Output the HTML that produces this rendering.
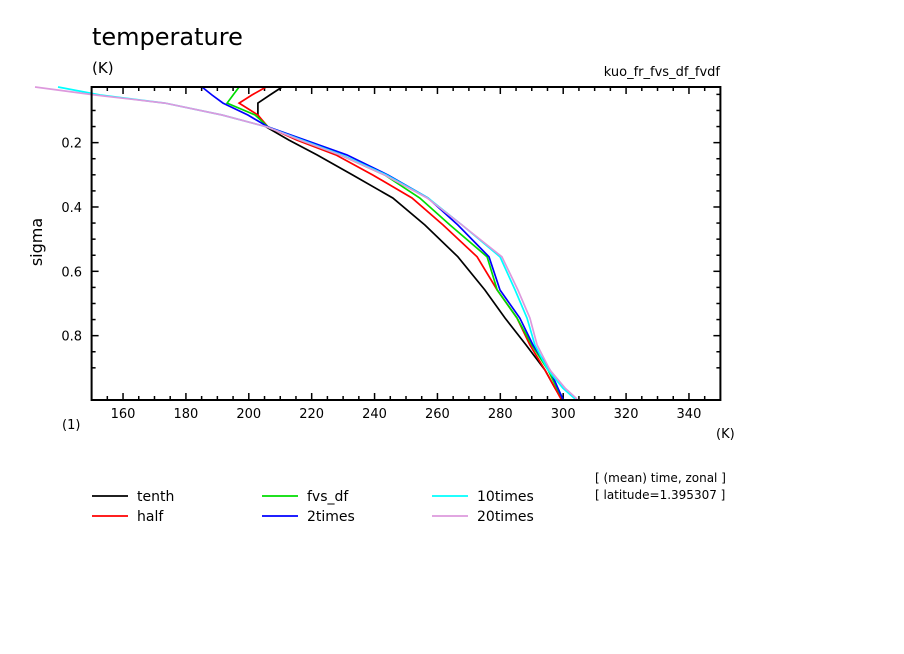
<!DOCTYPE html>
<html><head><meta charset="utf-8"><style>
html,body{margin:0;padding:0;background:#fff;}
svg{display:block;font-family:"DejaVu Sans","Liberation Sans",sans-serif;}
</style></head><body>
<svg id="chart" width="904" height="654" viewBox="0 0 904 654">
<text x="92" y="45" font-size="24">temperature</text>
<text x="92" y="73" font-size="15">(K)</text>
<text x="720" y="76" font-size="13" text-anchor="end">kuo_fr_fvs_df_fvdf</text>
<text x="42" y="242" font-size="16" text-anchor="middle" transform="rotate(-90 42 242)">sigma</text>
<text x="62" y="429" font-size="13">(1)</text>
<text x="716" y="438" font-size="13">(K)</text>
<text x="595" y="482" font-size="12">[ (mean) time, zonal ]</text>
<text x="595" y="499" font-size="12">[ latitude=1.395307 ]</text>
<g id="ticks"></g>
<g id="series"></g>
<rect x="91.6" y="87" width="628.8" height="313" fill="none" stroke="#000" stroke-width="2"/>
<g id="legend"></g>
</svg>
<script>
const sigma = [0.027,0.052,0.077,0.114,0.151,0.192,0.238,0.301,0.372,0.456,0.555,0.658,0.745,0.829,0.907,0.963,0.997];
const seriesNames = ["tenth","half","fvs_df","2times","10times","20times"];
const seriesColors = ["#000000","#ff0000","#00dd00","#0000ff","#00ffff","#dd99dd"];
const tenth  = [210.6,206.7,202.9,202.9,205.5,212.8,221.7,233.1,245.8,256.0,266.5,275.1,281.5,288.2,294.2,297.4,299.6];
const half   = [205.5,201.0,196.9,202.9,206.1,215.3,227.7,239.5,251.9,261.8,272.6,279.0,285.3,289.4,294.2,297.4,299.3];
const fvsdf  = [196.9,195.0,193.1,202.0,206.1,216.3,229.0,243.3,254.4,264.0,275.8,279.0,285.3,290.0,295.2,298.0,299.9];
const times2 = [185.1,188.3,191.8,199.7,206.1,217.9,231.2,244.3,257.0,266.5,276.4,279.9,286.2,290.4,295.8,298.3,299.9];
const times10= [139.3,152.7,173.3,191.5,205.8,216.9,229.6,243.9,257.0,267.8,279.9,284.7,288.5,291.0,295.2,299.9,303.8];
const times20= [132.0,151.1,173.3,191.5,205.8,216.3,229.0,243.3,256.7,267.8,280.5,285.6,289.4,291.7,295.8,300.6,304.4];
const xTickLabels = [160,180,200,220,240,260,280,300,320,340];
const yTickLabels = [0.2,0.4,0.6,0.8];

const NS="http://www.w3.org/2000/svg";
const X0=91.6,X1=720.4,Y0=87,Y1=400;
const xs=t=>X0+(t-150)/200*(X1-X0);
const ys=s=>Y1-(1-s)*321.7;
const tg=document.getElementById('ticks');
function line(g,x1,y1,x2,y2,c,w){const l=document.createElementNS(NS,'line');l.setAttribute('x1',x1);l.setAttribute('y1',y1);l.setAttribute('x2',x2);l.setAttribute('y2',y2);l.setAttribute('stroke',c);l.setAttribute('stroke-width',w);g.appendChild(l);return l;}
function text(g,x,y,s,anchor,size){const t=document.createElementNS(NS,'text');t.setAttribute('x',x);t.setAttribute('y',y);t.setAttribute('text-anchor',anchor);t.setAttribute('font-size',size);t.textContent=s;g.appendChild(t);return t;}
for(let v=155;v<350;v+=5){
  const major=(v%20===0);const L=major?7:4;const x=xs(v);
  const a=line(tg,x,Y1,x,Y1-L,'#000',1.5);
  
  
  const b=line(tg,x,Y0,x,Y0+L,'#000',1.5);
  
  
}
xTickLabels.forEach(v=>{const t=text(tg,xs(v),418,String(v),'middle',13);
  
  });
for(let i=1;i<=18;i++){
  const s=0.05*i;const y=ys(s);if(y<=Y0+1)continue;
  const major=(i%4===0);const L=major?7:4;
  const a=line(tg,X0,y,X0+L,y,'#000',1.5);
  
  
  const b=line(tg,X1,y,X1-L,y,'#000',1.5);
  
  
}
yTickLabels.forEach(v=>{const t=text(tg,82,ys(v)+5,v.toFixed(1),'end',13);
  
  });
const sg=document.getElementById('series');
const data=[tenth,half,fvsdf,times2,times10,times20];
data.forEach((arr,k)=>{
  const p=document.createElementNS(NS,'polyline');
  p.setAttribute('points',arr.map((t,i)=>xs(t).toFixed(1)+','+ys(sigma[i]).toFixed(1)).join(' '));
  p.setAttribute('fill','none');p.setAttribute('stroke',seriesColors[k]);p.setAttribute('stroke-width','1.7');
  
  
  sg.appendChild(p);
});
const lg=document.getElementById('legend');
seriesNames.forEach((n,k)=>{
  const col=Math.floor(k/2),row=k%2;const x=92+col*170,y=496+row*20;
  const g=document.createElementNS(NS,'g');
  
  
  line(g,x,y,x+36,y,seriesColors[k],1.7);
  text(g,x+45,y+5,n,'start',14);
  lg.appendChild(g);
});
</script>
</body></html>
